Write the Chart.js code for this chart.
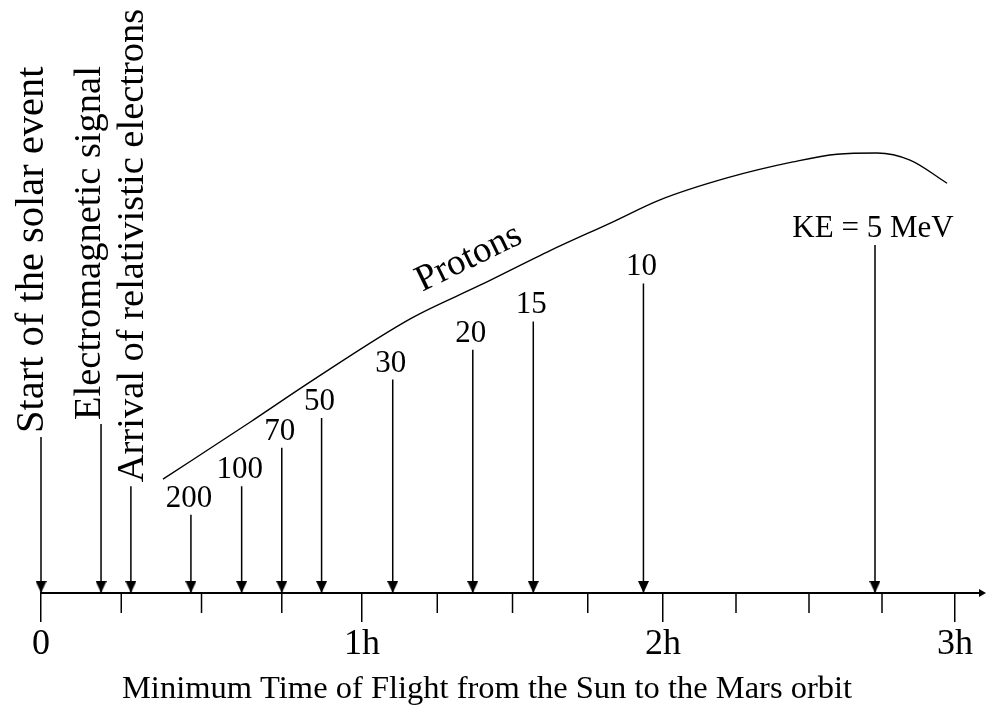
<!DOCTYPE html>
<html>
<head>
<meta charset="utf-8">
<script src="https://cdn.jsdelivr.net/npm/chart.js@4/dist/chart.umd.min.js"></script>
<style>
html,body{margin:0;padding:0;background:#fff;}
#wrap{width:986px;height:711px;position:relative;}
</style>
</head>
<body>
<div id="wrap"><canvas id="c"></canvas></div>
<script>
// ---- data (time in hours, heights in arbitrary drawing units 0-100) ----
const hourTickLabels = ['0', '1h', '2h', '3h'];
const axisTitle = 'Minimum Time of Flight from the Sun to the Mars orbit';

const eventNames = ['Start of the solar event', 'Electromagnetic signal', 'Arrival of relativistic electrons'];
const eventHours = [0, 0.187, 0.280];
const eventHeights = [26.3, 28.5, 18.0];

const protonLabels = ['200', '100', '70', '50', '30', '20', '15', '10', 'KE = 5 MeV'];
const protonHours = [0.467, 0.625, 0.750, 0.874, 1.102, 1.368, 1.569, 1.935, 2.726];
const protonHeights = [13.2, 18.0, 24.5, 29.5, 36.0, 41.0, 45.8, 52.2, 58.7];

const curveName = 'Protons';
const curveHours = [0.380, 0.651, 0.847, 1.166, 1.392, 1.615, 1.834, 1.990, 2.219, 2.445, 2.596, 2.733, 2.846, 2.973];
const curveHeights = [19.2, 28.8, 35.9, 46.4, 51.9, 57.5, 62.6, 66.3, 70.0, 72.7, 74.0, 74.2, 73.0, 69.1];

// ---- axis geometry of the original drawing (hour -> fraction of axis width) ----
const axisKnots = [[-0.128, 0], [0, 0.0421], [1, 0.3717], [2, 0.6807], [3, 0.9805], [3.065, 1]];

class PiecewiseScale extends Chart.LinearScale {
  getPixelForValue(value) {
    if (value === null || value === undefined || isNaN(value)) return NaN;
    const k = axisKnots;
    let i = 1;
    while (i < k.length - 1 && value > k[i][0]) i++;
    const v0 = k[i-1][0], d0 = k[i-1][1], v1 = k[i][0], d1 = k[i][1];
    return this.getPixelForDecimal(d0 + (value - v0) / (v1 - v0) * (d1 - d0));
  }
  getValueForPixel(pixel) {
    const d = this.getDecimalForPixel(pixel);
    const k = axisKnots;
    let i = 1;
    while (i < k.length - 1 && d > k[i][1]) i++;
    const v0 = k[i-1][0], d0 = k[i-1][1], v1 = k[i][0], d1 = k[i][1];
    return v0 + (d - d0) / (d1 - d0) * (v1 - v0);
  }
}
PiecewiseScale.id = 'piecewise';
PiecewiseScale.defaults = Chart.LinearScale.defaults;
Chart.register(PiecewiseScale);

Chart.defaults.font.family = '"Liberation Serif", "Times New Roman", serif';
Chart.defaults.color = '#000';

function arrowData(hours, heights) {
  const d = [];
  hours.forEach((h, i) => {
    d.push({x: h, y: 0});
    d.push({x: h, y: heights[i]});
    d.push({x: h, y: null});
  });
  return d;
}

const head = document.createElement('canvas');
head.width = 11; head.height = 26;
(function(){
  const hc = head.getContext('2d');
  hc.fillStyle = '#000';
  hc.beginPath(); hc.moveTo(0, 1); hc.lineTo(11, 1); hc.lineTo(5.5, 13); hc.closePath(); hc.fill();
})();

const isHour = v => Math.abs(v - Math.round(v)) < 1e-6;

const arrowStyle = {
  borderColor: '#000',
  borderWidth: 1.5,
  tension: 0,
  spanGaps: false,
  clip: false,
  pointStyle: c => (c.raw && c.raw.y === 0) ? head : 'circle',
  pointRadius: c => (c.raw && c.raw.y === 0) ? 5 : 0,
  pointHoverRadius: c => (c.raw && c.raw.y === 0) ? 5 : 0,
  pointBackgroundColor: '#000',
  pointBorderWidth: 0
};

const axisPlugin = {
  id: 'axisDecor',
  beforeDatasetsDraw(chart) {
    const ctx = chart.ctx, xs = chart.scales.x, y0 = chart.chartArea.bottom;
    ctx.save();
    ctx.strokeStyle = '#000';
    ctx.fillStyle = '#000';
    ctx.lineWidth = 2;
    ctx.beginPath();
    ctx.moveTo(xs.getPixelForValue(0) - 1, y0);
    ctx.lineTo(981, y0);
    ctx.stroke();
    ctx.beginPath();
    ctx.moveTo(979, y0 - 4); ctx.lineTo(986, y0); ctx.lineTo(979, y0 + 4); ctx.closePath(); ctx.fill();
    ctx.lineWidth = 1.5;
    xs.ticks.forEach((t, i) => {
      if (isHour(t.value)) return;
      const px = xs.getPixelForTick(i);
      ctx.beginPath(); ctx.moveTo(px, y0); ctx.lineTo(px, y0 + 20); ctx.stroke();
    });
    ctx.restore();
  }
};

const labelPlugin = {
  id: 'arrowLabels',
  afterDatasetsDraw(chart) {
    const ctx = chart.ctx;
    ctx.save();
    ctx.fillStyle = '#000';
    // event labels, rotated
    const ev = chart.getDatasetMeta(0);
    const shifts = [2, -1, 12];
    const sizes = [40.5, 38.5, 38.5];
    ctx.textAlign = 'left';
    ctx.textBaseline = 'alphabetic';
    eventNames.forEach((name, i) => {
      const p = ev.data[i * 3 + 1];
      ctx.save();
      ctx.font = sizes[i] + 'px "Liberation Serif"';
      ctx.translate(p.x + shifts[i], p.y - 4);
      ctx.rotate(-Math.PI / 2);
      ctx.fillText(name, 0, 0);
      ctx.restore();
    });
    // proton energy labels
    const pm = chart.getDatasetMeta(1);
    ctx.font = '31px "Liberation Serif"';
    ctx.textAlign = 'center';
    protonLabels.forEach((lab, i) => {
      const p = pm.data[i * 3 + 1];
      ctx.fillText(lab, p.x - 2, p.y - 8);
    });
    // curve name
    const xs = chart.scales.x, ys = chart.scales.y;
    ctx.save();
    ctx.translate(xs.getPixelForValue(1.2), ys.getPixelForValue(50.8));
    ctx.rotate(-26 * Math.PI / 180);
    ctx.font = '37px "Liberation Serif"';
    ctx.textAlign = 'left';
    ctx.fillText(curveName, 0, 0);
    ctx.restore();
    ctx.restore();
  }
};

new Chart(document.getElementById('c'), {
  type: 'line',
  data: {
    datasets: [
      Object.assign({label: 'Events', data: arrowData(eventHours, eventHeights)}, arrowStyle),
      Object.assign({label: 'Proton arrivals', data: arrowData(protonHours, protonHeights)}, arrowStyle),
      {
        label: curveName,
        data: curveHours.map((h, i) => ({x: h, y: curveHeights[i]})),
        borderColor: '#000',
        borderWidth: 1.4,
        cubicInterpolationMode: 'monotone',
        pointRadius: 0,
        pointHoverRadius: 0,
        clip: false
      }
    ]
  },
  options: {
    responsive: true,
    maintainAspectRatio: false,
    animation: false,
    events: [],
    layout: {autoPadding: false, padding: {left: 0, right: 12, top: 0, bottom: 0}},
    plugins: {legend: {display: false}, tooltip: {enabled: false}},
    scales: {
      x: {
        type: 'piecewise',
        min: -0.128,
        max: 3.065,
        afterFit: s => { s.height = 118; s.paddingLeft = 0; s.paddingRight = 0; },
        border: {display: false},
        grid: {
          drawOnChartArea: false,
          drawTicks: true,
          tickLength: 29,
          lineWidth: 1.5,
          color: c => (c.tick && isHour(c.tick.value)) ? '#000' : 'rgba(0,0,0,0)'
        },
        ticks: {
          stepSize: 0.25,
          includeBounds: false,
          autoSkip: false,
          maxRotation: 0,
          padding: 1,
          color: '#000',
          font: {size: 36, family: '"Liberation Serif"'},
          callback: v => isHour(v) ? hourTickLabels[Math.round(v)] : ''
        },
        title: {
          display: true,
          text: axisTitle,
          color: '#000',
          font: {size: 32.5, family: '"Liberation Serif"'},
          padding: {top: 0, bottom: 2}
        }
      },
      y: {
        display: false,
        min: 0,
        max: 100
      }
    }
  },
  plugins: [axisPlugin, labelPlugin]
});
</script>
</body>
</html>
